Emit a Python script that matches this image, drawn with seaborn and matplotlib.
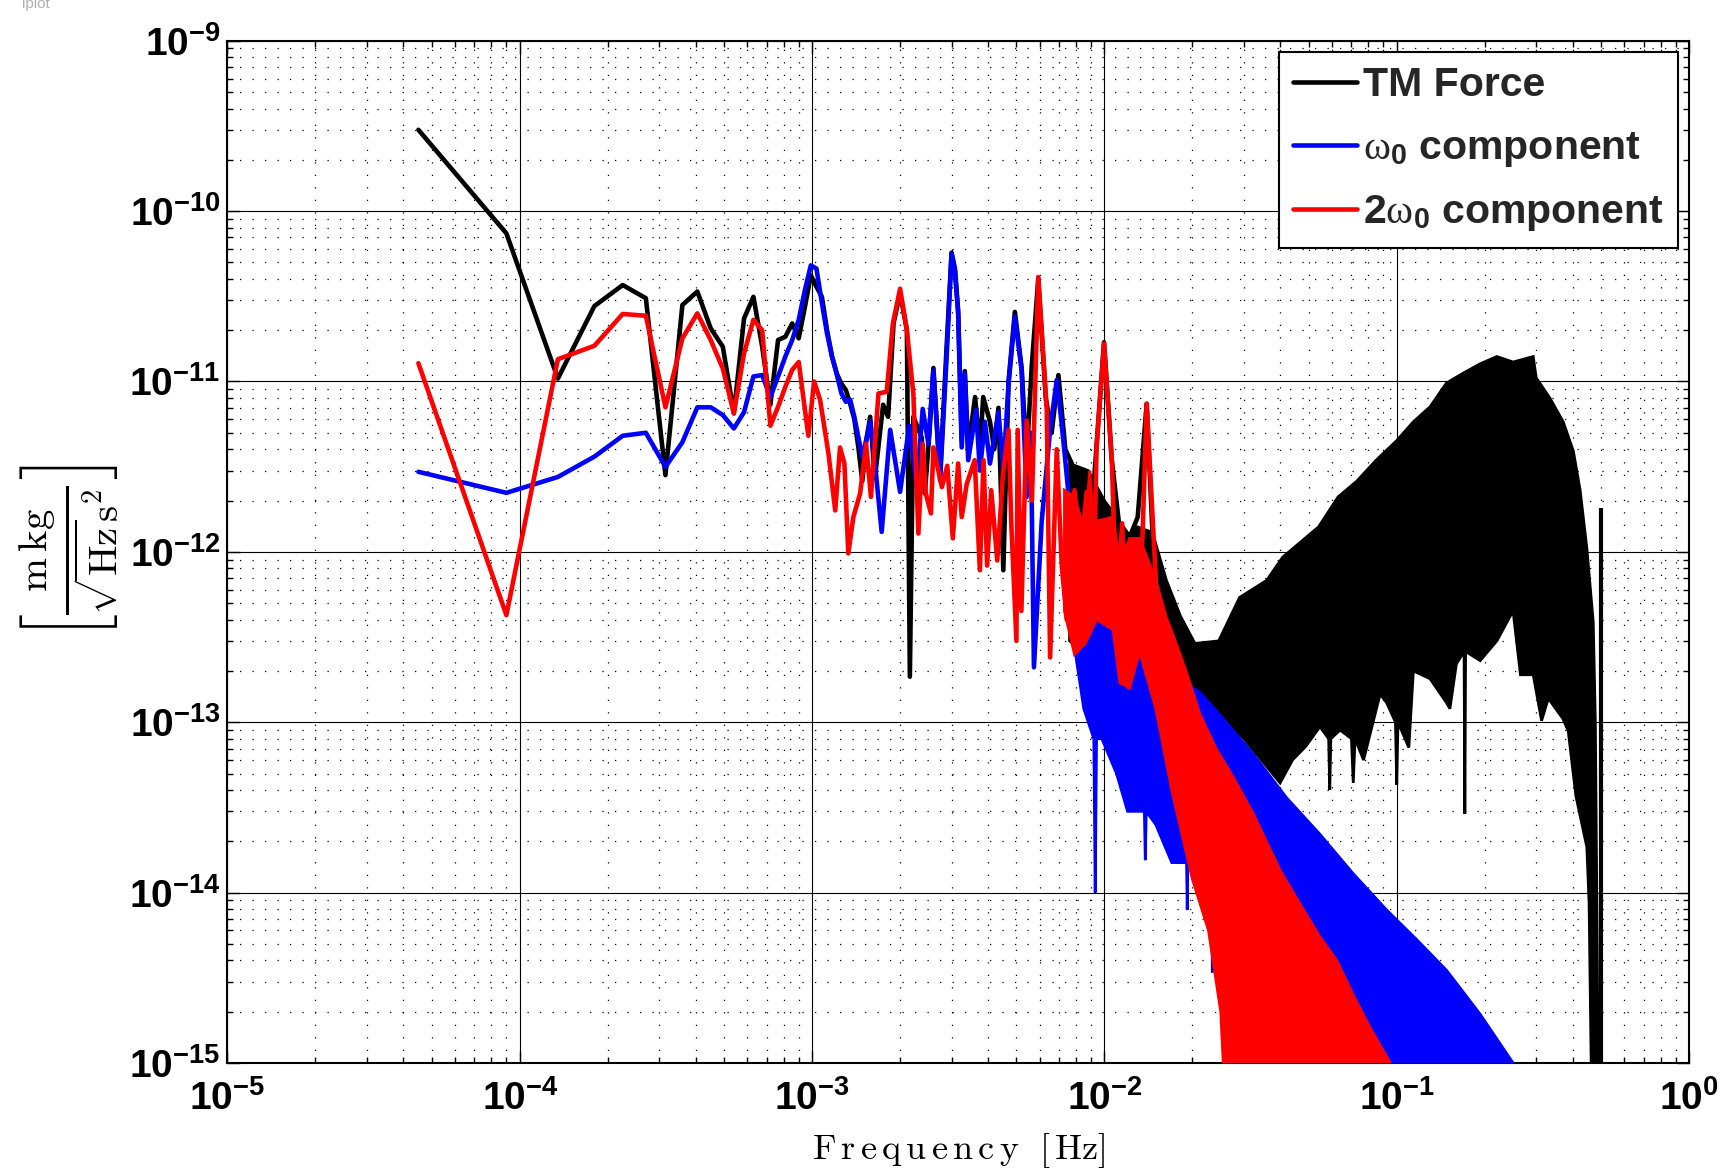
import numpy as np
import pandas as pd
import matplotlib
matplotlib.use("Agg")
import matplotlib.pyplot as plt
import seaborn as sns
from matplotlib.lines import Line2D
from matplotlib.ticker import FixedLocator, LogLocator, FuncFormatter, NullFormatter

# ---------------------------------------------------------------------------
# TM force (black): resolved low-frequency bins [Hz], amplitude [m kg / (sqrt(Hz) s^2)]
tm_freq = [4.5e-5, 9.0e-5, 1.35e-4, 1.8e-4, 2.25e-4, 2.7e-4, 3.15e-4, 3.6e-4, 4.05e-4,
           4.5e-4, 4.95e-4, 5.4e-4, 5.85e-4, 6.3e-4, 6.75e-4, 7.2e-4, 7.65e-4, 8.1e-4,
           8.55e-4, 9.0e-4, 9.45e-4, 9.9e-4, 1.035e-3, 1.08e-3, 1.125e-3, 1.17e-3,
           1.215e-3, 1.26e-3, 1.305e-3, 1.35e-3, 1.395e-3, 1.44e-3, 1.485e-3, 1.53e-3,
           1.58e-3, 1.64e-3, 1.75e-3, 1.82e-3, 1.9e-3, 2.0e-3, 2.11e-3, 2.16e-3, 2.22e-3,
           2.37e-3, 2.43e-3, 2.52e-3, 2.6e-3, 2.74e-3, 2.88e-3, 3.0e-3, 3.08e-3, 3.16e-3,
           3.25e-3, 3.33e-3, 3.42e-3, 3.61e-3, 3.75e-3, 3.85e-3, 4.06e-3, 4.2e-3, 4.34e-3,
           4.51e-3, 4.7e-3, 4.94e-3, 5.21e-3, 5.42e-3, 5.64e-3, 5.94e-3, 6.3e-3, 6.6e-3,
           6.96e-3, 7.35e-3, 7.73e-3, 8.2e-3, 8.58e-3, 9.0e-3, 9.4e-3, 9.97e-3, 1.06e-2,
           1.12e-2, 1.22e-2, 1.3e-2, 1.395e-2, 1.46e-2]
tm_val = [3.0e-10, 7.4e-11, 1.04e-11, 2.77e-11, 3.68e-11, 3.08e-11, 2.82e-12, 2.81e-11, 3.37e-11,
          2.05e-11, 1.6e-11, 6.5e-12, 2.34e-11, 3.14e-11, 1.6e-11, 7.3e-12, 1.75e-11, 1.83e-11,
          2.19e-11, 1.79e-11, 2.74e-11, 4.2e-11, 3.6e-11, 3.14e-11, 2.0e-11, 1.4e-11,
          1.11e-11, 9.7e-12, 8.9e-12, 7.4e-12, 6.0e-12, 4.1e-12, 2.6e-12, 4.4e-12,
          6.2e-12, 2.7e-12, 7.3e-12, 6.2e-12, 2.2e-11, 3.3e-11, 2.0e-11, 1.85e-13, 6.2e-12,
          4.7e-12, 2.2e-12, 5.0e-12, 1.2e-11, 2.8e-12, 1.5e-11, 5.7e-11, 4.6e-11, 2.6e-11,
          4.5e-12, 1.15e-11, 4.0e-12, 8.1e-12, 4.0e-12, 8.1e-12, 5.8e-12, 4.0e-12, 7.0e-12,
          7.8e-13, 1.0e-11, 2.56e-11, 1.2e-11, 3.5e-12, 1.22e-11, 4.0e-11, 8.0e-12, 5.0e-12,
          1.09e-11, 4.0e-12, 3.3e-12, 2.0e-12, 2.6e-12, 1.5e-12, 4.2e-12, 1.7e-11, 3.45e-12,
          1.5e-12, 1.22e-12, 1.6e-12, 7.4e-12, 1.3e-12]

# TM force, densely sampled part: upper / lower envelope of the spectrum
tm_up_freq = [7.6e-3, 8.8e-3, 1.0e-2, 1.1e-2, 1.2e-2, 1.3e-2, 1.46e-2, 1.63e-2, 1.82e-2,
              2.04e-2, 2.46e-2, 2.9e-2, 3.59e-2, 4.07e-2, 5.4e-2, 6.3e-2, 7.3e-2, 8.5e-2,
              0.1, 0.114, 0.13, 0.148, 0.169, 0.193, 0.22, 0.25, 0.293, 0.3, 0.334, 0.371,
              0.402, 0.424, 0.447, 0.47, 0.478, 0.485, 0.49]
tm_up_val = [3.3e-12, 3.0e-12, 2.0e-12, 1.6e-12, 1.2e-12, 1.4e-12, 1.3e-12, 6.8e-13, 4.2e-13,
             2.9e-13, 3.0e-13, 5.4e-13, 6.8e-13, 9.3e-13, 1.4e-12, 2.1e-12, 2.6e-12, 3.45e-12,
             4.5e-12, 5.8e-12, 7.1e-12, 9.8e-12, 1.12e-11, 1.27e-11, 1.4e-11, 1.3e-11,
             1.4e-11, 1.05e-11, 8.0e-12, 5.8e-12, 3.9e-12, 2.3e-12, 1.05e-12, 3.9e-13,
             1.0e-13, 5.0e-15, 5.0e-16]
tm_lo_freq = [7.6e-3, 1.0e-2, 1.46e-2, 2.0e-2, 3.0e-2, 3.99e-2, 4.4e-2, 4.88e-2, 5.46e-2,
              5.85e-2, 5.9e-2, 5.95e-2, 6.4e-2, 7.0e-2, 7.1e-2, 7.2e-2, 7.7e-2, 8.3e-2,
              8.77e-2, 9.24e-2, 9.9e-2, 0.1, 0.101, 0.11, 0.114, 0.13, 0.148, 0.152, 0.16,
              0.17, 0.171, 0.172, 0.193, 0.22, 0.25, 0.265, 0.293, 0.313, 0.33, 0.37, 0.386,
              0.41, 0.447, 0.455, 0.465, 0.49]
tm_lo_val = [3.0e-13, 2.0e-13, 3.0e-13, 1.5e-13, 8.0e-14, 4.4e-14, 6.0e-14, 7.2e-14, 9.4e-14,
             8.0e-14, 4.0e-14, 8.0e-14, 9.0e-14, 8.0e-14, 4.4e-14, 8.0e-14, 6.0e-14, 1.0e-13,
             1.46e-13, 1.3e-13, 1.0e-13, 4.3e-14, 1.0e-13, 7.1e-14, 2.0e-13, 1.8e-13,
             1.3e-13, 1.2e-13, 2.2e-13, 2.6e-13, 2.9e-14, 2.6e-13, 2.3e-13, 3.0e-13, 4.5e-13,
             1.9e-13, 1.9e-13, 1.02e-13, 1.38e-13, 1.05e-13, 8.9e-14, 3.7e-14, 1.85e-14,
             8.7e-15, 5.0e-16, 5.0e-16]
# last bin just below Nyquist
tm_nyq_freq = 0.4985
tm_nyq_val = 1.8e-12

# omega_0 component (blue)
w1_freq = [4.5e-5, 9.0e-5, 1.35e-4, 1.8e-4, 2.25e-4, 2.7e-4, 3.15e-4, 3.6e-4, 4.05e-4,
           4.5e-4, 4.95e-4, 5.4e-4, 5.85e-4, 6.3e-4, 6.75e-4, 7.2e-4, 7.65e-4, 8.1e-4,
           8.55e-4, 9.0e-4, 9.45e-4, 9.9e-4, 1.035e-3, 1.08e-3, 1.125e-3, 1.17e-3,
           1.215e-3, 1.26e-3, 1.305e-3, 1.35e-3, 1.395e-3, 1.44e-3, 1.485e-3, 1.53e-3,
           1.58e-3, 1.65e-3, 1.73e-3, 1.85e-3, 2.0e-3, 2.15e-3, 2.28e-3, 2.39e-3, 2.5e-3,
           2.6e-3, 2.74e-3, 2.88e-3, 3.0e-3, 3.08e-3, 3.16e-3, 3.25e-3, 3.33e-3, 3.42e-3,
           3.64e-3, 3.75e-3, 3.9e-3, 4.06e-3, 4.34e-3, 4.51e-3, 4.7e-3, 4.94e-3, 5.21e-3,
           5.42e-3, 5.6e-3, 5.74e-3, 6.1e-3, 6.52e-3, 6.87e-3, 7.1e-3, 7.33e-3, 7.63e-3,
           7.83e-3]
w1_val = [2.95e-12, 2.22e-12, 2.75e-12, 3.62e-12, 4.8e-12, 5.0e-12, 3.15e-12, 4.4e-12, 7.05e-12,
          7.05e-12, 6.35e-12, 5.3e-12, 6.6e-12, 1.07e-11, 1.09e-11, 8.1e-12, 1.07e-11, 1.4e-11,
          1.75e-11, 2.3e-11, 3.44e-11, 4.8e-11, 4.6e-11, 2.9e-11, 1.91e-11, 1.4e-11,
          1.1e-11, 8.5e-12, 7.6e-12, 7.8e-12, 6.2e-12, 4.7e-12, 3.6e-12, 4.5e-12,
          5.8e-12, 3.0e-12, 1.31e-12, 5.2e-12, 2.25e-12, 5.5e-12, 2.4e-12, 6.9e-12, 4.3e-12,
          1.16e-11, 2.63e-12, 1.3e-11, 5.6e-11, 4.5e-11, 2.5e-11, 4.1e-12, 1.11e-11, 3.45e-12,
          6.8e-12, 3.0e-12, 5.8e-12, 3.3e-12, 6.6e-12, 3.0e-12, 9.7e-12, 2.4e-11, 1.16e-11,
          2.1e-12, 5.0e-12, 2.1e-13, 1.5e-12, 5.2e-12, 1.02e-11, 6.2e-12, 3.6e-12, 1.75e-12,
          3.2e-13]
w1_up_freq = [7.8e-3, 8.7e-3, 1.01e-2, 1.12e-2, 1.25e-2, 1.43e-2, 1.63e-2, 1.91e-2, 2.12e-2,
              2.49e-2, 2.75e-2, 3.23e-2, 4.2e-2, 5.46e-2, 7.1e-2, 9.24e-2, 0.117, 0.148,
              0.193, 0.25, 0.26]
w1_up_val = [8.2e-13, 7.2e-13, 7.1e-13, 6.0e-13, 3.8e-13, 2.9e-13, 2.1e-13, 1.68e-13, 1.5e-13,
             1.1e-13, 9.0e-14, 6.5e-14, 3.6e-14, 2.2e-14, 1.29e-14, 7.9e-15, 5.3e-15, 3.5e-15,
             1.93e-15, 1.0e-15, 8.0e-16]
w1_lo_freq = [7.8e-3, 8.5e-3, 9.2e-3, 9.3e-3, 9.4e-3, 9.8e-3, 1.1e-2, 1.2e-2, 1.37e-2, 1.38e-2,
              1.39e-2, 1.5e-2, 1.7e-2, 1.91e-2, 1.92e-2, 1.93e-2, 2.1e-2, 2.33e-2, 2.34e-2,
              2.35e-2, 2.62e-2, 2.8e-2, 0.26]
w1_lo_val = [3.2e-13, 1.2e-13, 8.0e-14, 1.0e-14, 8.0e-14, 8.0e-14, 5.0e-14, 3.0e-14, 3.0e-14,
             1.55e-14, 3.0e-14, 2.5e-14, 1.5e-14, 1.5e-14, 7.9e-15, 1.5e-14, 1.0e-14, 1.0e-14,
             3.4e-15, 1.0e-14, 2.7e-15, 5.0e-16, 5.0e-16]

# 2 omega_0 component (red)
w2_freq = [4.5e-5, 9.0e-5, 1.35e-4, 1.8e-4, 2.25e-4, 2.7e-4, 3.15e-4, 3.6e-4, 4.05e-4,
           4.5e-4, 4.95e-4, 5.4e-4, 5.85e-4, 6.3e-4, 6.75e-4, 7.2e-4, 7.65e-4, 8.1e-4,
           8.55e-4, 9.0e-4, 9.71e-4, 1.016e-3, 1.065e-3, 1.137e-3, 1.2e-3, 1.246e-3,
           1.29e-3, 1.33e-3, 1.384e-3, 1.46e-3, 1.53e-3, 1.59e-3, 1.687e-3, 1.8e-3,
           1.89e-3, 2.0e-3, 2.11e-3, 2.22e-3, 2.31e-3, 2.39e-3, 2.45e-3, 2.55e-3, 2.6e-3,
           2.78e-3, 2.9e-3, 3.03e-3, 3.16e-3, 3.25e-3, 3.38e-3, 3.6e-3, 3.75e-3, 3.86e-3,
           3.97e-3, 4.1e-3, 4.3e-3, 4.5e-3, 4.7e-3, 4.8e-3, 5.0e-3, 5.05e-3, 5.2e-3,
           5.42e-3, 5.65e-3, 5.94e-3, 6.35e-3, 6.52e-3, 6.87e-3, 7.15e-3, 7.43e-3, 7.9e-3,
           8.3e-3, 8.7e-3, 9.16e-3, 9.4e-3, 9.97e-3, 1.06e-2, 1.1e-2, 1.15e-2, 1.21e-2,
           1.35e-2, 1.395e-2, 1.5e-2]
w2_val = [1.28e-11, 4.25e-13, 1.35e-11, 1.62e-11, 2.49e-11, 2.43e-11, 7.05e-12, 1.79e-11, 2.51e-11,
          1.75e-11, 1.19e-11, 6.5e-12, 1.46e-11, 2.3e-11, 2.0e-11, 5.5e-12, 7.1e-12, 9.3e-12,
          1.17e-11, 1.3e-11, 4.8e-12, 1.0e-11, 7.8e-12, 3.8e-12, 1.75e-12, 4.1e-12,
          3.3e-12, 9.8e-13, 1.6e-12, 2.2e-12, 4.3e-12, 2.1e-12, 8.5e-12, 8.7e-12,
          2.19e-11, 3.5e-11, 2.0e-11, 8.5e-12, 1.28e-12, 4.3e-12, 2.2e-12, 1.68e-12, 4.1e-12,
          2.4e-12, 3.2e-12, 1.2e-12, 3.3e-12, 1.6e-12, 2.5e-12, 3.45e-12, 7.8e-13, 3.45e-12,
          8.3e-13, 2.3e-12, 8.9e-13, 2.9e-12, 5.2e-12, 1.5e-12, 3.0e-13, 5.2e-12, 4.5e-13,
          5.9e-12, 2.0e-12, 4.1e-11, 6.8e-12, 2.4e-13, 4.0e-12, 8.2e-13, 4.0e-13, 2.3e-12,
          1.0e-12, 2.25e-12, 4.5e-13, 4.1e-12, 1.67e-11, 3.45e-12, 4.5e-13, 1.47e-12, 1.6e-13,
          1.22e-12, 7.4e-12, 6.8e-13]
w2_up_freq = [7.3e-3, 7.9e-3, 8.6e-3, 8.9e-3, 9.2e-3, 1.07e-2, 1.13e-2, 1.22e-2, 1.32e-2,
              1.5e-2, 1.63e-2, 1.76e-2, 1.9e-2, 2.12e-2, 2.41e-2, 2.75e-2, 3.23e-2, 3.99e-2,
              4.8e-2, 5.46e-2, 6.23e-2, 7.1e-2, 8.09e-2, 9.5e-2, 9.7e-2]
w2_up_val = [2.3e-12, 2.1e-12, 1.3e-12, 3.0e-12, 1.5e-12, 1.6e-12, 8.5e-13, 1.2e-12, 1.2e-12,
             6.8e-13, 4.1e-13, 2.9e-13, 2.0e-13, 1.12e-13, 7.0e-14, 4.8e-14, 2.9e-14, 1.35e-14,
             7.9e-15, 5.5e-15, 4.0e-15, 2.5e-15, 1.62e-15, 1.0e-15, 8.0e-16]
w2_lo_freq = [7.3e-3, 7.9e-3, 8.6e-3, 9.4e-3, 1.07e-2, 1.13e-2, 1.22e-2, 1.32e-2, 1.5e-2,
              1.7e-2, 2.0e-2, 2.27e-2, 2.5e-2, 2.6e-2, 9.7e-2]
w2_lo_val = [4.5e-13, 2.5e-13, 2.9e-13, 4.0e-13, 3.5e-13, 1.7e-13, 1.6e-13, 2.6e-13, 1.2e-13,
             4.0e-14, 1.2e-14, 6.0e-15, 2.0e-15, 5.0e-16, 5.0e-16]

series_names = ["TM Force", r"$\mathrm{\omega}_{\mathbf{0}}$ component",
                r"2$\mathrm{\omega}_{\mathbf{0}}$ component"]
series_colors = ["#000000", "#0000ff", "#ff0000"]

x_ticks = [1e-5, 1e-4, 1e-3, 1e-2, 1e-1, 1e0]
y_ticks = [1e-15, 1e-14, 1e-13, 1e-12, 1e-11, 1e-10, 1e-9]

# ---------------------------------------------------------------------------
sns.set_theme(style="ticks")
plt.rcParams.update({
    "font.family": ["Liberation Sans", "DejaVu Sans"],
    "mathtext.fontset": "custom",
    "mathtext.rm": "Liberation Serif",
    "mathtext.it": "Liberation Serif:italic",
    "mathtext.bf": "Liberation Sans:bold",
    "mathtext.sf": "Liberation Sans",
    "axes.edgecolor": "black",
    "axes.linewidth": 1.5,
})

fig = plt.figure(figsize=(17.23, 11.73), dpi=100)
ax = fig.add_axes([0.132, 0.0938, 0.8483, 0.8715])
ax.set(xscale="log", yscale="log")

LW = 3.3


def draw_series(freq, val, up_f, up_v, lo_f, lo_v, color, z):
    df = pd.DataFrame({"freq": freq, "value": val})
    sns.lineplot(data=df, x="freq", y="value", color=color, estimator=None,
                 sort=False, ax=ax, zorder=z)
    line = ax.lines[-1]
    line.set_linewidth(LW)
    line.set_solid_joinstyle("round")
    poly_x = np.concatenate([np.asarray(up_f), np.asarray(lo_f)[::-1]])
    poly_y = np.concatenate([np.asarray(up_v), np.asarray(lo_v)[::-1]])
    ax.fill(poly_x, poly_y, facecolor=color, edgecolor=color, lw=2.0, zorder=z)


draw_series(tm_freq, tm_val, tm_up_freq, tm_up_val, tm_lo_freq, tm_lo_val, series_colors[0], 3)
ax.vlines(tm_nyq_freq, 5e-16, tm_nyq_val, color=series_colors[0], lw=3.0, zorder=3)
draw_series(w1_freq, w1_val, w1_up_freq, w1_up_val, w1_lo_freq, w1_lo_val, series_colors[1], 4)
draw_series(w2_freq, w2_val, w2_up_freq, w2_up_val, w2_lo_freq, w2_lo_val, series_colors[2], 5)

ax.set_xlim(1e-5, 1e0)
ax.set_ylim(1e-15, 1e-9)

# boxed axes, inward ticks, solid decade grid and dotted minor grid
ax.xaxis.set_major_locator(FixedLocator(x_ticks))
ax.yaxis.set_major_locator(FixedLocator(y_ticks))
ax.xaxis.set_minor_locator(LogLocator(base=10, subs=np.arange(2, 10), numticks=100))
ax.yaxis.set_minor_locator(LogLocator(base=10, subs=np.arange(2, 10), numticks=100))
decade_fmt = FuncFormatter(lambda v, p: r"$\mathbf{10^{%d}}$" % int(round(np.log10(v))))
ax.xaxis.set_major_formatter(decade_fmt)
ax.yaxis.set_major_formatter(decade_fmt)
ax.xaxis.set_minor_formatter(NullFormatter())
ax.yaxis.set_minor_formatter(NullFormatter())
ax.tick_params(which="both", direction="in", top=True, right=True, color="black",
               labelcolor="black")
ax.tick_params(which="major", length=9, width=1.0, labelsize=28)
ax.tick_params(which="minor", length=4.5, width=1.0)
ax.tick_params(axis="x", which="major", pad=12)
ax.tick_params(axis="y", which="major", pad=5)
ax.set_axisbelow(True)
ax.grid(which="major", color="black", lw=0.8, ls="-")
ax.grid(which="minor", color="black", lw=0.9, ls=(0, (1, 9)))
for sp in ax.spines.values():
    sp.set_visible(True)
    sp.set_linewidth(1.5)
    sp.set_color("black")

ax.set_xlabel(r"$\mathrm{F\,r\,e\,q\,u\,e\,n\,c\,y}\ \ [\,\mathrm{Hz}]$",
              math_fontfamily="cm", fontsize=26, labelpad=10, color="black")
ax.set_ylabel(r"$\left[\frac{\mathrm{m\,kg}}{\sqrt{\mathrm{Hz}}\mathrm{s}^{2}}\right]$",
              math_fontfamily="cm", fontsize=42, labelpad=6, color="black")

handles = [Line2D([], [], color=c, lw=LW) for c in series_colors]
leg = ax.legend(handles, series_names, loc="upper right", bbox_to_anchor=(0.9925, 0.989),
                borderaxespad=0, frameon=True, fancybox=False, shadow=False, framealpha=1,
                edgecolor="black", handlelength=1.55, handletextpad=0.15, labelspacing=0.6,
                borderpad=0.35, prop={"family": "Liberation Sans", "weight": "bold", "size": 29.5})
leg.get_frame().set_linewidth(1.5)
leg.set_zorder(10)

fig.text(0.013, 1 - 8 / 1173, "iplot", color="#b0b0b0", fontsize=11, va="baseline")

fig.savefig("out.png", dpi=100, facecolor="white")
